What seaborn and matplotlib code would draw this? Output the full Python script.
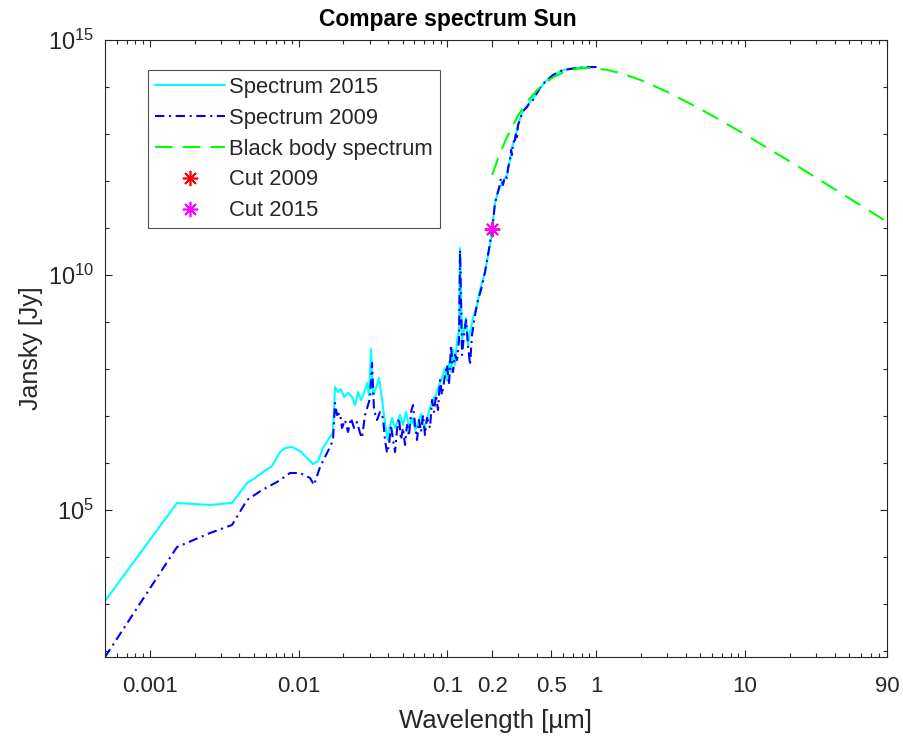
import matplotlib
matplotlib.use("Agg")
import matplotlib.pyplot as plt
import matplotlib.ticker as mticker
import seaborn as sns
import numpy as np

# ---------------- data (wavelength in micrometres, flux in Jansky) ----------------
wl_2015 = [0.0005, 0.001524, 0.002541, 0.003569, 0.004501, 0.005095, 0.005765, 0.006628,
           0.0075, 0.008104, 0.009031, 0.01022, 0.01139, 0.0125, 0.01351, 0.01459, 0.01577,
           0.01703, 0.01757, 0.01841, 0.01928, 0.02020, 0.02148, 0.02285, 0.02394, 0.02508,
           0.02627, 0.02752, 0.02883, 0.02973, 0.03067, 0.03163, 0.03313, 0.03470, 0.03579,
           0.03750, 0.03868, 0.03990, 0.04115, 0.04244, 0.04446, 0.04657, 0.04803, 0.05031,
           0.05270, 0.05521, 0.05784, 0.06059, 0.06346, 0.06648, 0.06964, 0.07295, 0.07640,
           0.08003, 0.08385, 0.08783, 0.09201, 0.09636, 0.09940, 0.1025, 0.1057, 0.1091,
           0.1125, 0.1161, 0.1197, 0.1216, 0.1254, 0.1293, 0.1334, 0.1376, 0.1419, 0.1486,
           0.1581, 0.1656, 0.1790, 0.1934, 0.20, 0.2089, 0.2188, 0.2328, 0.2515, 0.2635,
           0.2717, 0.2847, 0.2982, 0.3172, 0.3428, 0.3761, 0.4001, 0.4193, 0.4529, 0.5127,
           0.5984, 0.7430, 0.9087, 1.0]
jy_2015 = [1.16e3, 1.41e5, 1.28e5, 1.41e5, 3.75e5, 4.80e5, 6.44e5, 8.64e5,
           1.71e6, 2.08e6, 2.19e6, 1.80e6, 1.28e6, 9.52e5, 1.10e6, 2.08e6, 3.09e6,
           4.57e6, 4.14e7, 3.24e7, 3.75e7, 2.54e7, 3.09e7, 2.54e7, 1.71e7, 3.24e7,
           2.19e7, 3.09e7, 5.04e7, 2.80e7, 2.66e8, 2.80e7, 3.94e7, 6.44e7, 3.24e7,
           1.05e7, 5.04e6, 3.09e6, 6.44e6, 9.07e6, 5.56e6, 8.22e6, 1.05e7, 6.44e6,
           1.22e7, 5.56e6, 9.07e6, 5.04e6, 6.76e6, 1.10e7, 5.56e6, 8.22e6, 1.48e7,
           2.19e7, 2.80e7, 4.57e7, 6.44e7, 1.05e8, 5.83e7, 1.41e8, 8.64e7, 2.54e8,
           1.22e8, 4.14e8, 6.76e8, 3.75e10, 4.14e8, 6.76e8, 1.22e9, 3.24e8, 5.83e8, 1.22e9,
           2.30e9, 4.80e9, 1.16e10, 4.35e10, 9.52e10, 3.40e11, 5.83e11, 9.07e11, 1.34e12, 2.80e12,
           5.29e12, 8.22e12, 1.55e13, 2.80e13, 3.94e13, 5.83e13, 7.45e13, 9.52e13, 1.28e14, 1.80e14,
           2.30e14, 2.54e14, 2.66e14, 2.66e14]

wl_2009 = [0.0005, 0.001524, 0.002541, 0.003569, 0.004501, 0.005678, 0.007160, 0.008756,
           0.01022, 0.01193, 0.01270, 0.01393, 0.01626, 0.01703, 0.01757, 0.01812, 0.01899,
           0.01958, 0.02051, 0.02148, 0.02250, 0.02357, 0.02469, 0.02587, 0.02668, 0.02795,
           0.02928, 0.03020, 0.03115, 0.03212, 0.03365, 0.03524, 0.03693, 0.03809, 0.03929,
           0.04052, 0.04179, 0.04310, 0.04446, 0.04585, 0.04729, 0.04877, 0.05031, 0.05190,
           0.05353, 0.05521, 0.05695, 0.05874, 0.06059, 0.06250, 0.06445, 0.06648, 0.06857,
           0.07072, 0.07295, 0.07640, 0.07881, 0.08128, 0.08385, 0.08648, 0.08920, 0.09201,
           0.09636, 0.09940, 0.1025, 0.1057, 0.1091, 0.1125, 0.1161, 0.1197, 0.1216, 0.1254,
           0.1293, 0.1334, 0.1376, 0.1419, 0.1464, 0.1533, 0.1606, 0.1682, 0.1790, 0.1934,
           0.20, 0.2089, 0.2156, 0.2222, 0.2292, 0.2364, 0.2439, 0.2515, 0.2555, 0.2635,
           0.2677, 0.2717, 0.2760, 0.2847, 0.2891, 0.2936, 0.2982, 0.3076, 0.3172, 0.3272,
           0.3428, 0.3535, 0.3646, 0.3761, 0.3879, 0.4001, 0.4193, 0.4529, 0.5127, 0.5984,
           0.7430, 0.9087, 1.0]
jy_2009 = [74.5, 1.63e4, 3.24e4, 4.80e4, 1.63e5, 2.66e5, 3.94e5, 6.13e5,
           6.13e5, 4.80e5, 3.40e5, 8.22e5, 2.19e6, 3.09e6, 1.89e7, 1.05e7, 1.16e7,
           5.56e6, 8.22e6, 4.57e6, 9.07e6, 5.56e6, 7.45e6, 4.35e6, 3.40e6, 1.05e7,
           1.71e7, 2.42e7, 1.34e8, 1.34e7, 8.22e6, 1.22e7, 9.07e6, 3.09e6, 1.63e6,
           2.42e6, 6.44e6, 3.09e6, 1.71e6, 5.04e6, 9.07e6, 3.09e6, 5.56e6, 2.42e6,
           6.44e6, 3.75e6, 1.22e7, 1.71e7, 6.44e6, 3.09e6, 8.22e6, 4.57e6, 1.05e7,
           3.94e6, 9.07e6, 5.56e6, 2.19e7, 1.22e7, 2.80e7, 1.34e7, 5.83e7, 2.80e7,
           7.45e7, 1.22e8, 4.57e7, 3.24e8, 8.64e7, 1.99e8, 1.55e8, 4.14e8, 3.40e10, 1.99e8,
           5.29e8, 1.10e9, 3.24e8, 1.22e8, 5.29e8, 1.41e9, 2.94e9, 4.80e9, 1.16e10, 4.80e10,
           9.52e10, 3.40e11, 5.04e11, 7.10e11, 1.16e12, 8.22e11, 1.28e12, 1.16e12, 1.89e12, 2.80e12,
           4.57e12, 3.57e12, 6.44e12, 7.45e12, 1.05e13, 8.64e12, 1.55e13, 1.99e13, 2.80e13, 3.24e13,
           3.75e13, 4.35e13, 4.57e13, 5.29e13, 6.13e13, 7.45e13, 9.52e13, 1.28e14, 1.80e14, 2.30e14,
           2.54e14, 2.66e14, 2.66e14]

wl_blackbody = [0.2, 0.22, 0.25, 0.3, 0.35, 0.4, 0.5, 0.6, 0.7, 0.8, 0.9, 1.0, 1.2, 1.5,
                2.0, 3.0, 5.0, 7.0, 10.0, 20.0, 30.0, 50.0, 90.0]
jy_blackbody = [1.35e12, 3.15e12, 8.34e12, 2.54e13, 5.24e13, 8.55e13, 1.53e14, 2.05e14,
                2.36e14, 2.51e14, 2.54e14, 2.49e14, 2.29e14, 1.92e14, 1.40e14, 7.90e13,
                3.42e13, 1.88e13, 9.76e12, 2.60e12, 1.18e12, 4.32e11, 1.35e11]

cut_2009 = (0.2, 9.5e10)
cut_2015 = (0.2, 9.5e10)

x_ticks = [0.001, 0.01, 0.1, 0.2, 0.5, 1, 10, 90]
x_tick_labels = ["0.001", "0.01", "0.1", "0.2", "0.5", "1", "10", "90"]
y_ticks = [1e5, 1e10, 1e15]
y_tick_labels = [r"$10^{5}$", r"$10^{10}$", r"$10^{15}$"]

# ---------------- styling ----------------
sns.set_style("ticks")
plt.rcParams["font.family"] = ["Liberation Sans", "DejaVu Sans"]
plt.rcParams["mathtext.fontset"] = "custom"
plt.rcParams["mathtext.rm"] = "Liberation Sans"
plt.rcParams["mathtext.default"] = "regular"
axcol = (0.15, 0.15, 0.15)

fig = plt.figure(figsize=(9.04, 7.38), dpi=100)
ax = fig.add_axes([105 / 904, (738 - 657) / 738, 782 / 904, 617 / 738])
ax.set_xscale("log")
ax.set_yscale("log")

lw = 1.5
sns.lineplot(x=wl_2015, y=jy_2015, ax=ax, color=(0, 1, 1), lw=lw, sort=False,
             estimator=None, label="Spectrum 2015")
sns.lineplot(x=wl_2009, y=jy_2009, ax=ax, color=(0, 0, 1), lw=lw, sort=False,
             estimator=None, label="Spectrum 2009", dashes=False)
ax.lines[-1].set_dashes([4.5, 2.2, 1.0, 2.2])
sns.lineplot(x=wl_blackbody, y=jy_blackbody, ax=ax, color=(0, 1, 0), lw=lw, sort=False,
             estimator=None, label="Black body spectrum")
ax.lines[-1].set_dashes([8.5, 4.8])

star = (8, 2, 0)
ax.plot([cut_2009[0]], [cut_2009[1]], linestyle="none", marker=star, markersize=11,
        markeredgewidth=1.2, color=(1, 0, 0), label="Cut 2009")
ax.plot([cut_2015[0]], [cut_2015[1]], linestyle="none", marker=star, markersize=11,
        markeredgewidth=1.2, color=(1, 0, 1), label="Cut 2015")

ax.set_xlim(0.0005, 90)
ax.set_ylim(10 ** 1.8723, 1e15)

ax.xaxis.set_major_locator(mticker.FixedLocator(x_ticks))
ax.xaxis.set_major_formatter(mticker.FixedFormatter(x_tick_labels))
ax.xaxis.set_minor_locator(mticker.LogLocator(base=10, subs=np.arange(2, 10), numticks=50))
ax.xaxis.set_minor_formatter(mticker.NullFormatter())

ax.yaxis.set_major_locator(mticker.FixedLocator(y_ticks))
ax.yaxis.set_major_formatter(mticker.FixedFormatter(y_tick_labels))
ax.yaxis.set_minor_locator(mticker.FixedLocator([10.0 ** k for k in range(2, 15)]))
ax.yaxis.set_minor_formatter(mticker.NullFormatter())

ax.tick_params(which="both", direction="in", top=True, right=True, colors=axcol,
               labelsize=16, labelcolor=axcol)
ax.tick_params(which="major", length=5, width=0.8)
ax.tick_params(which="minor", length=3, width=0.8)
ax.tick_params(axis="x", pad=14)
ax.tick_params(axis="y", pad=8, labelsize=17)
for s in ax.spines.values():
    s.set_color(axcol)
    s.set_linewidth(0.8)

ax.set_xlabel("Wavelength [µm]", fontsize=18.5, color=axcol, labelpad=8)
ax.set_ylabel("Jansky [Jy]", fontsize=18, color=axcol, labelpad=3)
ax.set_title("Compare spectrum Sun", fontsize=16.5, fontweight="bold", color="black",
             pad=10, x=0.439)

leg = ax.legend(loc="upper left", bbox_to_anchor=(0.055, 0.951), borderaxespad=0,
                fontsize=15.8, handlelength=3.2, handletextpad=0.2, labelspacing=0.45,
                frameon=True, fancybox=False, edgecolor=axcol, borderpad=0.3)
leg.get_frame().set_linewidth(0.8)
for t in leg.get_texts():
    t.set_color(axcol)

fig.savefig("out.png", dpi=100)
